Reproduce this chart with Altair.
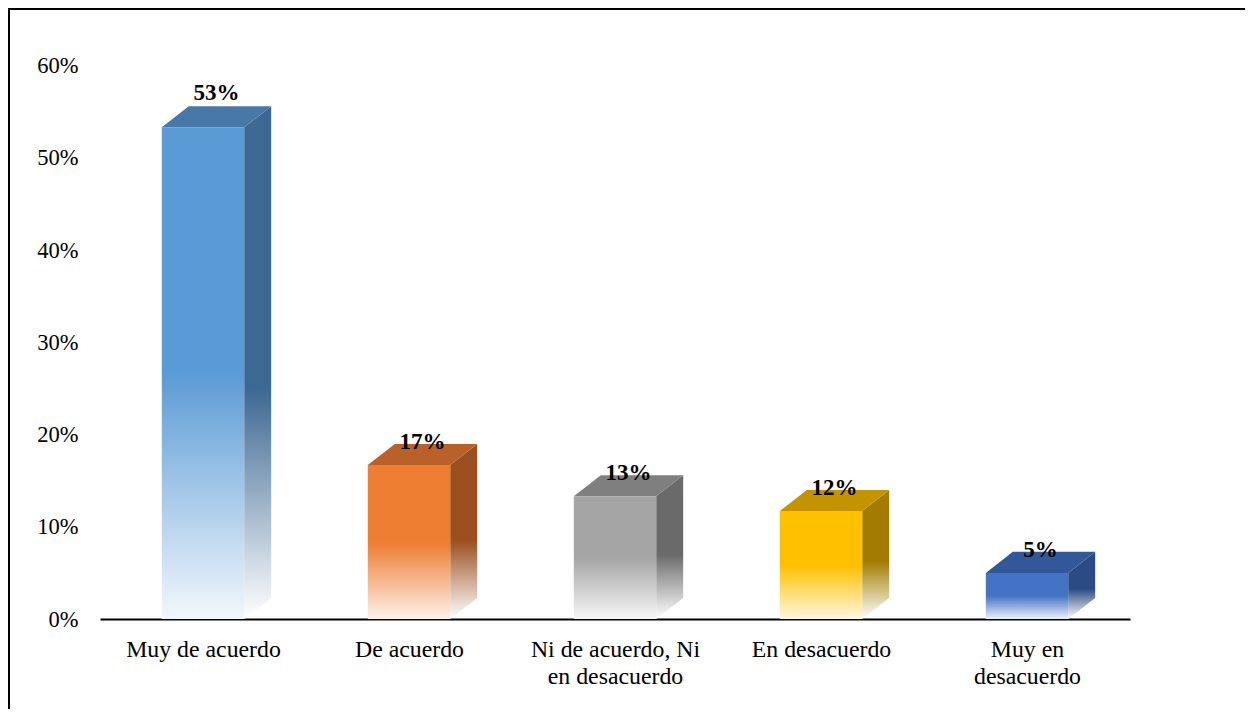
import altair as alt
import pandas as pd

# ---- data ----
category_lines = [["Muy de acuerdo"], ["De acuerdo"], ["Ni de acuerdo, Ni", "en desacuerdo"],
                  ["En desacuerdo"], ["Muy en", "desacuerdo"]]
values = [0.533, 0.167, 0.133, 0.117, 0.05]
front_colors = ["#5B9BD5", "#ED7D31", "#A5A5A5", "#FFC000", "#4472C4"]
top_colors = ["#4878A8", "#BA612A", "#7F7F7F", "#C49300", "#335899"]
side_colors = ["#3D6891", "#9B4F1F", "#6A6A6A", "#A37B00", "#2B4B84"]
fade_colors = ["#F2F7FC", "#FDF2EA", "#F6F6F6", "#FFF8E0", "#EEF2FA"]

HALF = 0.2      # half width of front face (category units)
DX = 0.131      # depth to the right (category units)
DY = 0.0228     # depth upward (value units)

idx = list(range(len(values)))
front = pd.DataFrame({"i": idx, "x0": [i - HALF for i in idx], "x1": [i + HALF for i in idx],
                      "v": values, "z": [0.0] * len(values)})
side_rows, top_rows = [], []
for i, v in zip(idx, values):
    side_rows.append({"i": i, "x": i + HALF, "yt": v, "yb": 0.0})
    side_rows.append({"i": i, "x": i + HALF + DX, "yt": v + DY, "yb": DY})
    top_rows.append({"i": i, "y": v, "xa": i - HALF, "xb": i + HALF})
    top_rows.append({"i": i, "y": v + DY, "xa": i - HALF + DX, "xb": i + HALF + DX})
side = pd.DataFrame(side_rows)
top = pd.DataFrame(top_rows)
labels = pd.DataFrame({"i": idx, "xc": [i + DX / 2 for i in idx], "v": values})

W, H = 1030, 553.5
FONT = "Liberation Serif"

label_expr = "[" + ",".join("[" + ",".join("'" + s + "'" for s in lines) + "]"
                            for lines in category_lines) + "][datum.value]"

xscale = alt.Scale(domain=[-0.5, 4.5], nice=False, zero=False)
yscale = alt.Scale(domain=[0, 0.6], nice=False)
xaxis = alt.Axis(title=None, values=idx, labelExpr=label_expr, ticks=False, tickSize=0,
                 grid=False, domainColor="black", domainWidth=2, labelFont=FONT, labelFontSize=23.8,
                 labelColor="black", labelPadding=18, labelLineHeight=27, labelOverlap=False,
                 labelBound=False, labelFlush=False)
yaxis = alt.Axis(title=None, values=[0, 0.1, 0.2, 0.3, 0.4, 0.5, 0.6], format=".0%", ticks=False,
                 tickSize=0, grid=False, domain=False, labelFont=FONT, labelFontSize=22.5,
                 labelColor="black", labelPadding=22)


def vgrad(c, fade, start):
    return alt.LinearGradient(gradient="linear", x1=0, y1=0, x2=0, y2=1,
                              stops=[alt.GradientStop(color=c, offset=0),
                                     alt.GradientStop(color=c, offset=start),
                                     alt.GradientStop(color=fade, offset=1)])


layers = []
for i in idx:
    s = alt.Chart(side).transform_filter(f"datum.i == {i}").mark_area(
        color=vgrad(side_colors[i], "#FFFFFF", 0.55), strokeWidth=0).encode(
        x=alt.X("x:Q", scale=xscale, axis=xaxis),
        y=alt.Y("yt:Q", scale=yscale, axis=yaxis),
        y2="yb:Q")
    t = alt.Chart(top).transform_filter(f"datum.i == {i}").mark_area(
        orient="horizontal", color=top_colors[i], strokeWidth=0).encode(
        y=alt.Y("y:Q", scale=yscale, axis=yaxis),
        x=alt.X("xa:Q", scale=xscale, axis=xaxis),
        x2="xb:Q")
    f = alt.Chart(front).transform_filter(f"datum.i == {i}").mark_rect(
        color=vgrad(front_colors[i], fade_colors[i], 0.5)).encode(
        x=alt.X("x0:Q", scale=xscale, axis=xaxis),
        x2="x1:Q",
        y=alt.Y("v:Q", scale=yscale, axis=yaxis),
        y2="z:Q")
    layers += [s, t, f]

text_first = alt.Chart(labels).transform_filter("datum.i == 0").mark_text(
    font=FONT, fontSize=23, fontWeight="bold", color="black", baseline="alphabetic", dy=-27).encode(
    x=alt.X("xc:Q", scale=xscale, axis=xaxis),
    y=alt.Y("v:Q", scale=yscale, axis=yaxis),
    text=alt.Text("v:Q", format=".0%"))
text_rest = alt.Chart(labels).transform_filter("datum.i > 0").mark_text(
    font=FONT, fontSize=23, fontWeight="bold", color="black", baseline="alphabetic", dy=-16).encode(
    x=alt.X("xc:Q", scale=xscale, axis=xaxis),
    y=alt.Y("v:Q", scale=yscale, axis=yaxis),
    text=alt.Text("v:Q", format=".0%"))
layers += [text_first, text_rest]

one = alt.Data(values=[{"k": 1}])
frame_left = alt.Chart(one).mark_rule(color="black", strokeWidth=2).encode(
    x=alt.value(-91), y=alt.value(-57), y2=alt.value(H + 95))
frame_top = alt.Chart(one).mark_rule(color="black", strokeWidth=2).encode(
    y=alt.value(-56.5), x=alt.value(-92), x2=alt.value(W + 120))
layers += [frame_left, frame_top]

chart = alt.layer(*layers).properties(
    width=W, height=H, autosize="none",
    padding={"left": 92, "top": 57.5, "right": 115, "bottom": 90},
    background="white",
).configure_view(stroke=None)

chart.save("out.html", embed_options={"renderer": "svg", "actions": False})
